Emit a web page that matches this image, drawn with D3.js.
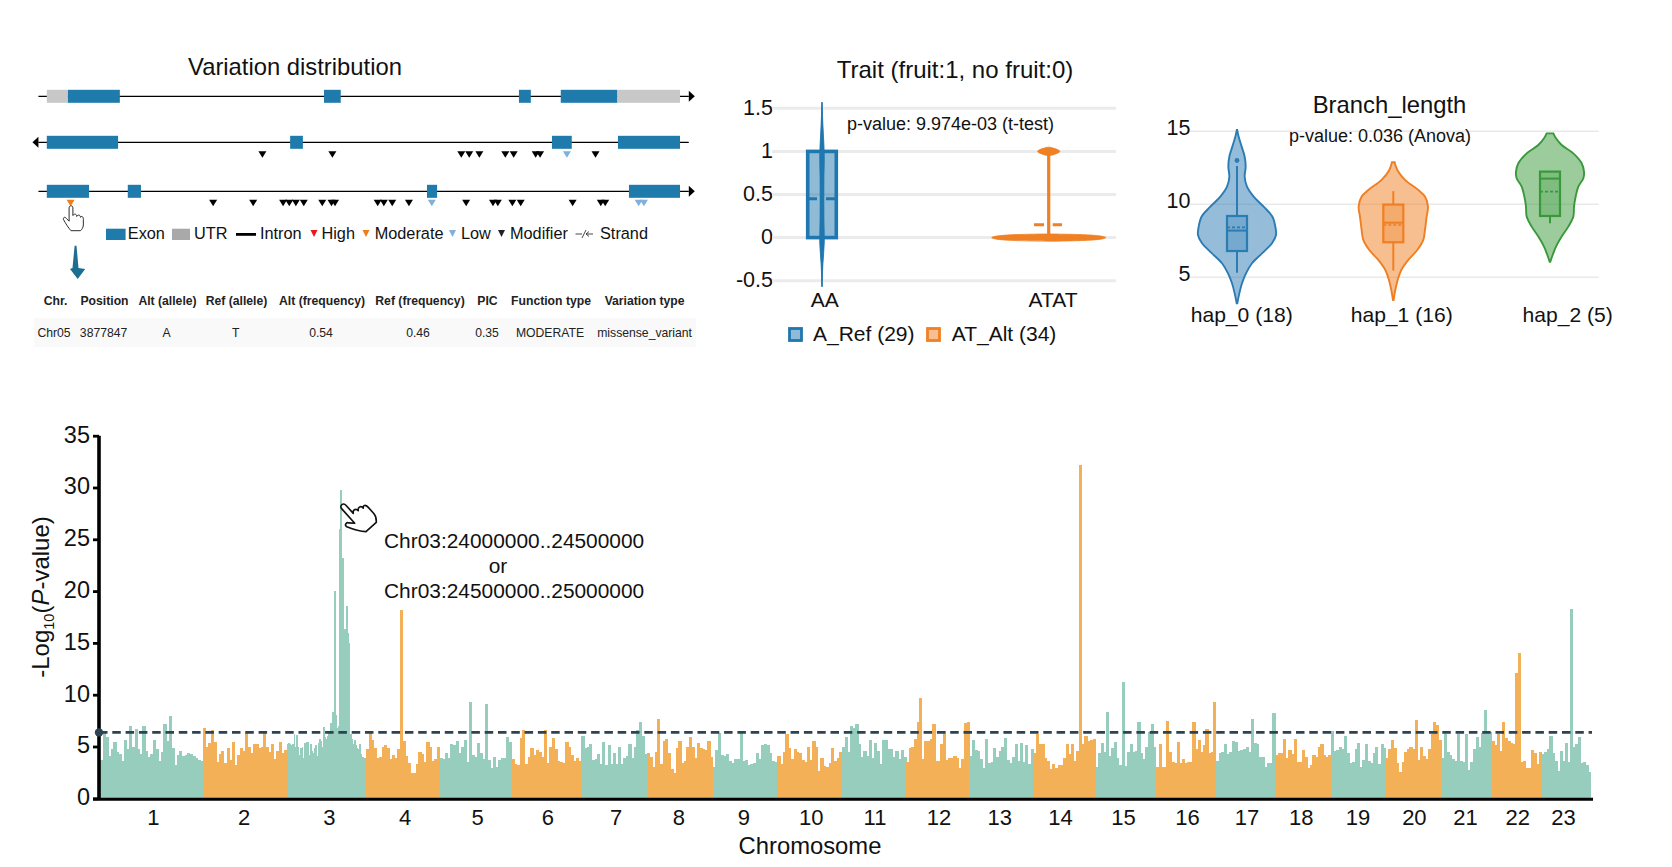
<!DOCTYPE html>
<html><head><meta charset="utf-8">
<script src="https://cdn.jsdelivr.net/npm/d3@7"></script>
<style>
html,body{margin:0;padding:0;background:#fff;overflow:hidden}
text{font-family:"Liberation Sans",Arial,sans-serif;fill:#111}
</style></head><body>
<svg id="c" width="1672" height="867"></svg>
<script>
// ---------- Manhattan data ----------
const chromNames = d3.range(1,24).map(String);
const chromLengths = [105.3,84,79,73.7,72,70,65.3,66,64.7,64.7,64,63.3,64,62,60.7,60,59.3,56,54.7,55.3,50.7,50,49];
const chromTickAt = [55.8,146.5,231.8,307.5,380,450.4,518.6,581.5,646.6,713.8,777.7,841.7,902.5,963.3,1026.2,1090.2,1149.9,1204.2,1260.8,1317.3,1368.5,1420.7,1466.6];
const chr01=[3.3,3.7,6.5,5.9,4.1,4.8,5.4,4.5,4.3,3.6,5.6,4.8,7.0,5.0,6.7,4.8,4.3,7.0,4.6,4.0,4.3,5.6,4.8,3.6,4.5,7.2,5.5,7.9,4.9,3.2,4.2,4.6,4.1,4.2,4.4,4.3,4.1,3.9,3.7,3.6];
const chr02=[6.8,5.0,5.3,6.6,5.4,3.5,4.3,4.6,3.4,4.9,3.7,5.4,3.2,4.2,4.9,4.6,6.4,5.0,4.4,5.2,5.2,4.9,5.0,6.4,5.0,4.5,5.2,3.8,4.6,5.4,4.4,4.7];
const chr03=[5.2,5.3,5.2,5.1,5.2,6.2,5.0,6.1,5.0,4.2,4.9,5.0,3.9,5.3,5.4,5.4,4.2,5.2,4.6,4.4,4.9,5.1,4.1,5.3,5.7,5.5,5.0,6.9,5.9,5.7,6.0,6.3,7.3,7.3,8.3,20,8,6.8,7,26,29.8,23.2,16.3,16.3,18.6,16,15,6.2,5.7,5.2,5.6,5.1,4.9,4.8,5.2,4.3,4.0,3.9,3.9];
const chr04=[4.8,6.4,5.6,4.9,3.9,4.0,5.0,5.1,4.9,3.8,4.2,3.9,4.8,18.2,5.5,4.1,3.4,2.4,2.4,3.3,4.5,4.3,3.5,5.4,5.0,3.6,3.8,5.0];
const chr05=[3.9,3.8,4.4,3.9,5.2,5.1,5.5,4.4,5.0,5.6,3.5,9.3,4.2,4.0,5.3,4.4,3.8,9.1,3.7,2.9,4.0,3.0,3.7,3.9,3.9,5.9,5.4];
const chr06=[3.8,3.3,3.2,5.8,6.6,3.3,4.0,4.9,4.2,4.7,4.5,4.0,6.6,3.4,5.0,5.8,4.8,3.6,3.5,3.4,5.4,5.0,4.2,3.6,3.9,3.6];
const chr07=[6.0,4.9,5.0,5.2,3.7,3.8,4.3,3.3,5.4,3.2,5.1,3.3,4.4,3.3,5.0,3.3,3.9,4.1,5.2,3.9,5.0,6.6,7.4,6.0,4.3];
const chr08=[4.4,4.0,3.0,4.5,7.7,3.3,5.5,5.7,4.4,2.8,2.4,4.9,5.5,3.4,3.6,5.0,5.9,5.0,3.9,5.3,4.9,4.8,4.7,5.5,4.0];
const chr09=[3.0,4.7,6.3,4.2,4.1,4.3,3.6,3.4,3.8,3.8,6.3,3.6,3.7,3.2,3.3,3.4,4.4,3.8,5.1,5.2,5.1,4.4,3.6,3.5];
const chr10=[4.1,3.3,4.5,6.2,4.9,3.8,4.8,4.5,4.4,3.7,3.5,5.0,3.7,5.5,5.0,2.6,3.9,3.1,3.0,3.4,4.9,3.6,3.9,4.5];
const chr11=[5.0,5.9,4.5,7.0,6.8,7.2,5.2,4.0,4.6,4.1,5.6,3.9,5.3,4.6,3.3,5.6,5.6,4.8,4.8,4.0,4.6,3.8,4.7,4.0];
const chr12=[3.5,4.9,5.0,5.7,7.4,9.7,3.8,5.5,5.5,5.7,7.2,3.6,3.6,5.2,6.5,3.7,3.9,3.9,4.1,3.9,2.9,3.8,7.3,7.4];
const chr13=[4.1,5.6,4.7,4.6,3.8,2.9,5.7,3.4,3.5,4.9,4.0,4.6,5.0,5.8,3.7,3.4,4.0,5.2,3.6,5.3,3.5,5.1,3.3,4.8];
const chr14=[4.4,6.2,5.2,5.2,3.9,3.6,2.8,3.3,2.9,3.2,3.2,3.9,5.2,4.3,5.2,3.6,4.6,32.2,5.2,6.0,5.5,5.6,5.7];
const chr15=[3.0,4.4,5.3,4.5,8.3,4.1,4.9,5.4,3.9,3.2,11.2,3.1,4.5,5.2,4.5,4.6,7.4,4.4,3.8,5.0,6.4,7.2,5.0];
const chr16=[3.0,5.2,3.0,3.0,7.5,4.5,3.5,3.4,5.4,3.4,3.8,3.4,3.5,3.5,7.4,4.8,5.6,4.5,5.1,6.7,4.4,4.5,9.3];
const chr17=[3.6,4.4,4.5,5.2,4.3,4.5,5.5,5.4,4.6,4.7,4.8,5.0,4.5,7.7,5.3,5.2,4.0,4.0,3.0,3.4,3.4,8.2];
const chr18=[4.2,4.4,4.4,5.7,3.9,4.7,4.3,5.7,3.5,3.5,4.7,4.0,2.9,3.2,4.2,4.0,5.0,5.2,4.2,4.0,4.2];
const chr19=[6.5,4.6,4.7,5.0,4.8,6.0,4.4,3.4,3.5,4.8,5.3,3.0,3.7,5.2,3.6,3.4,4.4,5.0,3.3,5.2,4.9];
const chr20=[3.9,4.8,5.6,4.9,3.4,2.5,3.5,4.5,4.8,5.0,4.8,7.6,3.7,5.0,4.1,3.8,4.8,6.2,7.4,7.1,5.6];
const chr21=[3.9,6.2,4.5,4.2,3.8,3.6,6.2,3.6,3.5,6.2,2.7,3.5,4.8,5.9,5.0,6.3,8.5,6.4,6.4];
const chr22=[5.5,5.1,6.2,4.6,7.4,5.8,5.5,5.3,5.2,12.1,14.0,3.5,3.6,2.9,2.9,4.7,4.4,3.3,4.5];
const chr23=[4.3,4.5,4.8,6.0,4.4,3.6,2.6,4.6,3.6,5.3,3.5,18.3,5.0,5.2,5.9,3.4,3.5,3.2,2.5];
const chromValues=[chr01,chr02,chr03,chr04,chr05,chr06,chr07,chr08,chr09,chr10,chr11,chr12,chr13,chr14,chr15,chr16,chr17,chr18,chr19,chr20,chr21,chr22,chr23];
const threshold=6.36;
const yTicksMain=[0,5,10,15,20,25,30,35];
const regionLines=["Chr03:24000000..24500000","or","Chr03:24500000..25000000"];

// ---------- Gene tracks ----------
const track1Utr=[[61,109],[1357,1500]];
const track1Exon=[[109,227],[691,729],[1134,1161],[1229,1357]];
const track2Exon=[[61,223],[614,643],[1209,1254],[1359,1500]];
const track3Exon=[[61,157],[245,275],[925,948],[1384,1500]];
const track2Modifier=[551,710,1003,1021,1044,1103,1122,1172,1182,1308];
const track2Low=[1243];
const track3Modifier=[439,530,598,612,627,645,687,708,716,813,827,846,884,1014,1075,1086,1119,1138,1256,1320,1330];
const track3Low=[936,1406,1418];
const track3Moderate=[115];
const tableHeader=["Chr.","Position","Alt (allele)","Ref (allele)","Alt (frequency)","Ref (frequency)","PIC","Function type","Variation type"];
const tableRow=["Chr05","3877847","A","T","0.54","0.46","0.35","MODERATE","missense_variant"];

// ---------- Trait panel ----------
const traitTicks=[1.5,1,0.5,0,-0.5];
const traitCats=["AA","ATAT"];
const traitLegend=["A_Ref (29)","AT_Alt (34)"];
const aaViolinV=[-0.57,-0.3,-0.05,0.2,0.45,0.7,0.95,1.3,1.57];
const aaViolinD=[0,0.4,1,0.85,0.8,0.85,1,0.4,0];
const aaBox=[0,0.45,1];
const atLowV=[-0.042,-0.03,-0.012,0,0.012,0.03,0.042];
const atLowD=[0.02,0.72,0.96,1,0.96,0.72,0.02];
const atHighV=[0.952,0.97,0.988,1,1.012,1.03,1.048];
const atHighD=[0.02,0.12,0.18,0.195,0.18,0.12,0.02];
const atBox=[0,0.15,1];

// ---------- Branch length panel ----------
const branchTicks=[5,10,15];
const hapLabels=["hap_0 (18)","hap_1 (16)","hap_2 (5)"];
const hap0V=[15.09,14.63,13.95,13.26,12.58,11.89,11.21,10.53,9.84,9.16,8.47,7.9,7.33,6.64,5.96,5.27,4.59,3.9,3.22];
const hap0D=[0.5,5,14,23,26,23,30,50,80,106,115,117,105,75,45,27,15,7,1];
const hap1V=[12.88,12.35,11.67,10.98,10.53,9.84,9.16,8.24,7.56,6.87,6.19,5.5,4.82,4.13,3.45];
const hap1D=[4,12,35,75,95,104,100,95,90,72,45,24,13,6,1];
const hap2V=[14.86,14.52,14.06,13.49,12.81,12.24,11.78,11.21,10.53,9.84,9.16,8.47,7.79,7.1,6.53,6.07];
const hap2D=[10,18,35,70,95,102,100,85,77,72,70,55,35,18,8,1];
const hap0Box={lo:5.32,q1:6.8,med:8.2,mean:8.42,q3:9.2,hi:12.63,out:13.0};
const hap1Box={lo:5.46,q1:7.4,med:8.74,mean:8.58,q3:9.98,hi:10.9};
const hap2Box={lo:8.7,q1:9.2,med:11.76,mean:10.87,q3:12.24,hi:12.24};

const svg=d3.select("#c");
function label(g,x,y,t,fs,anchor,extra){
  const n=g.append("text").attr("x",x).attr("y",y).attr("dy","0.35em").attr("font-size",fs).attr("text-anchor",anchor||"start").text(t);
  if(extra)extra(n);return n;
}
const handPath="M-2,2C-2,-1 2,-1 2,2L2,10C3,8 6,8 6,11C7,9 10,9 10,12C11,10 13,11 13,14L13,20C13,23 11,25 10,26L0,26C-2,24 -6,18 -8,14C-8.6,12 -6,11 -5,13L-2,16Z";

// ================= Manhattan =================
(function(){
 const g=svg.append("g");
 const cum=d3.cumsum(chromLengths);
 const x=d3.scaleLinear().domain([0,cum[cum.length-1]]).range([97.7,1590.7]);
 const y=d3.scaleLinear().domain([0,35]).range([798.3,435.7]);
 const col=["#97cdbd","#f3b057"];
 chromValues.forEach((vals,i)=>{
   const s=i?cum[i-1]:0,e=cum[i];
   const b=d3.scaleBand().domain(d3.range(vals.length)).range([x(s),x(e)]);
   g.append("g").attr("shape-rendering","crispEdges").selectAll("rect").data(vals).join("rect")
    .attr("x",(d,j)=>b(j)).attr("width",b.bandwidth()+0.5)
    .attr("y",d=>y(d)).attr("height",d=>y(0)-y(d)).attr("fill",col[i%2]);
 });
 // axes
 const ax=g.append("g").attr("transform","translate(99,0)").call(d3.axisLeft(y).tickValues(yTicksMain).tickSize(6).tickPadding(3));
 ax.select(".domain").attr("stroke","#000").attr("stroke-width",3.6).attr("d","M0,"+y(35)+"V"+(y(0)+1.5));
 ax.selectAll(".tick line").attr("stroke","#000").attr("stroke-width",2.8);
 ax.selectAll(".tick text").attr("font-size",23.5).attr("font-family","Liberation Sans").attr("fill","#111").attr("dy","0.27em");
 g.append("line").attr("x1",93).attr("x2",1593).attr("y1",y(0)+1).attr("y2",y(0)+1).attr("stroke","#000").attr("stroke-width",3);
 chromNames.forEach((n,i)=>label(g,x(chromTickAt[i]),817.5,n,22,"middle"));
 label(g,810,846,"Chromosome",23.8,"middle");
 // y title
 const t=g.append("text").attr("transform","translate(49,597) rotate(-90)").attr("text-anchor","middle").attr("font-size",24);
 t.append("tspan").text("-Log");
 t.append("tspan").attr("font-size",14.5).attr("dy",5).text("10");
 t.append("tspan").attr("dy",-5).text("(");
 t.append("tspan").attr("font-style","italic").text("P");
 t.append("tspan").text("-value)");
 // threshold
 g.append("line").attr("x1",99).attr("x2",1592).attr("y1",y(threshold)).attr("y2",y(threshold))
  .attr("stroke","#2c4353").attr("stroke-width",2.6).attr("stroke-dasharray","8.5 4.8");
 g.append("circle").attr("cx",99).attr("cy",y(threshold)).attr("r",4.2).attr("fill","#2c4353");
 // region text
 label(g,384,540.7,regionLines[0],20.9,"start");
 label(g,498,566,regionLines[1],20.9,"middle");
 label(g,384,590.7,regionLines[2],20.9,"start");
 g.append("path").attr("d",handPath).attr("transform","translate(342,505) rotate(-42) scale(1.38)")
  .attr("fill","#fff").attr("stroke","#111").attr("stroke-width",1.2).attr("stroke-linejoin","round");
})();

// ================= Gene tracks =================
(function(){
 const g=svg.append("g");
 const x=d3.scaleLinear().domain([61,1500]).range([46.8,680]);
 label(g,295,67,"Variation distribution",23.8,"middle");
 const blue="#1f7bab",grey="#c8c8c8";
 function track(yc,exons,utrs,dir){
   g.append("line").attr("x1",x(42)).attr("x2",x(1520)).attr("y1",yc).attr("y2",yc).attr("stroke","#000").attr("stroke-width",1.3);
   const ax=dir>0?x(1520):x(42);
   g.append("path").attr("d",`M${ax+dir*6},${yc}L${ax},${yc-5.5}L${ax},${yc+5.5}Z`).attr("fill","#000");
   g.selectAll(null).data(utrs).join("rect").attr("x",d=>x(d[0])).attr("width",d=>x(d[1])-x(d[0])).attr("y",yc-6.5).attr("height",13).attr("fill",grey);
   g.selectAll(null).data(exons).join("rect").attr("x",d=>x(d[0])).attr("width",d=>x(d[1])-x(d[0])).attr("y",yc-6.5).attr("height",13).attr("fill",blue);
 }
 track(96.3,track1Exon,track1Utr,1);
 track(142.3,track2Exon,[],-1);
 track(191.3,track3Exon,[],1);
 function tri(cx,top,w,h,c){return g.append("path").attr("d",`M${cx-w/2},${top}H${cx+w/2}L${cx},${top+h}Z`).attr("fill",c);}
 const mod="#000",low="#7db1de",mo="#ef7d1a",hi="#e8191f";
 track2Modifier.forEach(d=>tri(x(d),151.3,8,6.5,mod));
 track2Low.forEach(d=>tri(x(d),151.3,8,6.5,low));
 track3Modifier.forEach(d=>tri(x(d),199.8,8,6.5,mod));
 track3Low.forEach(d=>tri(x(d),199.8,8,6.5,low));
 track3Moderate.forEach(d=>tri(x(d),199.8,8,6.5,mo));
 g.append("path").attr("d",handPath).attr("transform","translate(71,206) scale(0.95)")
  .attr("fill","#fff").attr("stroke","#222").attr("stroke-width",1);
 // legend
 const ly=233.5;
 g.append("rect").attr("x",106).attr("y",228.7).attr("width",19.6).attr("height",11.3).attr("fill",blue);
 label(g,127.8,ly,"Exon",16.3);
 g.append("rect").attr("x",172).attr("y",228.7).attr("width",18).attr("height",11.3).attr("fill","#a9a9a9");
 label(g,194,ly,"UTR",16.3);
 g.append("line").attr("x1",236).attr("x2",256).attr("y1",234.4).attr("y2",234.4).attr("stroke","#000").attr("stroke-width",2.8);
 label(g,260,ly,"Intron",16.3);
 tri(314,230,7,7,hi); label(g,321.5,ly,"High",16.3);
 tri(366,230,7,7,mo); label(g,374.7,ly,"Moderate",16.3);
 tri(452.5,230,7,7,low); label(g,461,ly,"Low",16.3);
 tri(501.5,230,7,7,"#222"); label(g,510,ly,"Modifier",16.3);
 g.append("path").attr("d","M575.5,234H582M586,234H593M582,238L586,230M586,234l3,-2.5M586,234l3,2.5").attr("stroke","#333").attr("stroke-width",0.9).attr("fill","none");
 label(g,600,ly,"Strand",16.3);
 // arrow
 g.append("path").attr("d","M74.6,245.7L76.5,245.7L78.5,268L85.2,269L77.7,279L70,269L72.5,268Z").attr("fill","#1d6f91");
 // table
 g.append("rect").attr("x",34).attr("y",318).attr("width",662).attr("height",29).attr("fill","#f9f9f9");
 const hx=[55.6,104.5,167.5,236.5,322,420,487.5,551,644.6];
 const rx=[54,103.6,166.6,235.7,321,418,487,550,644.6];
 tableHeader.forEach((t,i)=>label(g,hx[i],301,t,12.2,"middle",n=>n.attr("font-weight","bold").style("fill","#222")));
 tableRow.forEach((t,i)=>label(g,rx[i],332.5,t,12.2,"middle",n=>n.style("fill","#222")));
})();

// ================= Trait =================
(function(){
 const g=svg.append("g");
 const y=d3.scaleLinear().domain([-0.5,1.5]).range([280.7,108.3]);
 label(g,955,69.5,"Trait (fruit:1, no fruit:0)",24,"middle");
 const ax=g.append("g").attr("transform","translate(773,0)").call(d3.axisLeft(y).tickValues(traitTicks).tickSize(0).tickPadding(0).tickFormat(String));
 ax.select(".domain").remove();
 ax.selectAll(".tick text").attr("font-size",21.5).attr("font-family","Liberation Sans").attr("fill","#111").attr("dy","0.27em");
 g.selectAll(null).data(traitTicks).join("line").attr("x1",772).attr("x2",1116).attr("y1",d=>y(d)).attr("y2",d=>y(d)).attr("stroke","#ebebeb").attr("stroke-width",3);
 const blue="#1f77b0",or="#f08024";
 function violin(cx,vals,dens,scale,col){
   const right=vals.map((v,i)=>[cx+dens[i]*scale,y(v)]);
   const left=vals.map((v,i)=>[cx-dens[i]*scale,y(v)]).reverse();
   g.append("path").attr("d",d3.line().curve(d3.curveCatmullRomClosed)(right.concat(left))).attr("fill",col).attr("stroke",col).attr("stroke-width",0.8);
 }
 const cA=822,cB=1048.7;
 violin(cA,aaViolinV,aaViolinD,2.3,blue);
 g.append("rect").attr("x",cA-14.3).attr("width",28.6).attr("y",y(aaBox[2])).attr("height",y(aaBox[0])-y(aaBox[2]))
  .attr("fill",blue).attr("fill-opacity",0.5).attr("stroke",blue).attr("stroke-width",3.6);
 violin(cA,aaViolinV,aaViolinD,1.4,blue);
 g.append("path").attr("d",`M${cA-13},${y(aaBox[1])}H${cA-5}M${cA+4},${y(aaBox[1])}H${cA+13}`).attr("stroke",blue).attr("stroke-width",3);
 g.append("line").attr("x1",cB).attr("x2",cB).attr("y1",y(atBox[2])).attr("y2",y(atBox[0])).attr("stroke",or).attr("stroke-width",3.2);
 violin(cB,atLowV,atLowD,57,or);
 violin(cB,atHighV,atHighD,57,or);
 g.append("path").attr("d",`M${cB-14.7},${y(atBox[1])}H${cB-4.7}M${cB+4},${y(atBox[1])}H${cB+13.3}`).attr("stroke",or).attr("stroke-width",3);
 label(g,824.7,299.5,traitCats[0],21,"middle");
 label(g,1053,299.5,traitCats[1],21,"middle");
 label(g,847,124,"p-value: 9.974e-03 (t-test)",18,"start");
 g.append("rect").attr("x",789.5).attr("y",328.5).attr("width",12).attr("height",12).attr("fill",blue).attr("fill-opacity",0.5).attr("stroke",blue).attr("stroke-width",2.8);
 label(g,813,333.5,traitLegend[0],21,"start");
 g.append("rect").attr("x",927.5).attr("y",328.5).attr("width",12).attr("height",12).attr("fill",or).attr("fill-opacity",0.5).attr("stroke",or).attr("stroke-width",2.8);
 label(g,951.7,333.5,traitLegend[1],21,"start");
})();

// ================= Branch length =================
(function(){
 const g=svg.append("g");
 const y=d3.scaleLinear().domain([5,15]).range([277.3,131.3]);
 label(g,1389.5,105,"Branch_length",23.8,"middle");
 const ax=g.append("g").attr("transform","translate(1190.5,0)").call(d3.axisLeft(y).tickValues(branchTicks).tickSize(0).tickPadding(0).tickFormat(String));
 ax.select(".domain").remove();
 ax.selectAll(".tick text").attr("font-size",21.5).attr("font-family","Liberation Sans").attr("fill","#111").attr("dy","0.17em");
 g.selectAll(null).data(branchTicks).join("line").attr("x1",1190).attr("x2",1598.7).attr("y1",d=>y(d)).attr("y2",d=>y(d)).attr("stroke","#e9e9e9").attr("stroke-width",1.5);
 const w=d3.scaleLinear().domain([0,3]).range([0,1]);
 const cols=["#2b7cb3","#ef7f22","#39993a"];
 function violin(cx,vals,dens,box,col){
   const pts=vals.map((v,i)=>[dens[i],v]);
   const area=d3.area().x0(d=>cx-w(d[0])).x1(d=>cx+w(d[0])).y(d=>y(d[1])).curve(d3.curveCatmullRom);
   g.append("path").attr("d",area(pts)).attr("fill",col).attr("fill-opacity",0.5).attr("stroke",col).attr("stroke-width",1.9);
   if(box.hi>box.q3)g.append("line").attr("x1",cx).attr("x2",cx).attr("y1",y(box.hi)).attr("y2",y(box.q3)).attr("stroke",col).attr("stroke-width",2);
   g.append("line").attr("x1",cx).attr("x2",cx).attr("y1",y(box.q1)).attr("y2",y(box.lo)).attr("stroke",col).attr("stroke-width",2);
   g.append("rect").attr("x",cx-10).attr("width",20).attr("y",y(box.q3)).attr("height",y(box.q1)-y(box.q3)).attr("fill",col).attr("fill-opacity",0.3).attr("stroke",col).attr("stroke-width",2.2);
   g.append("line").attr("x1",cx-10).attr("x2",cx+10).attr("y1",y(box.med)).attr("y2",y(box.med)).attr("stroke",col).attr("stroke-width",2);
   g.append("line").attr("x1",cx-10).attr("x2",cx+10).attr("y1",y(box.mean)).attr("y2",y(box.mean)).attr("stroke",col).attr("stroke-width",1.6).attr("stroke-dasharray","3 2");
   if(box.out!==undefined)g.append("circle").attr("cx",cx).attr("cy",y(box.out)).attr("r",2.4).attr("fill",col);
 }
 violin(1237,hap0V,hap0D,hap0Box,cols[0]);
 violin(1393.3,hap1V,hap1D,hap1Box,cols[1]);
 violin(1550,hap2V,hap2D,hap2Box,cols[2]);
 label(g,1380,136,"p-value: 0.036 (Anova)",18,"middle");
 label(g,1241.7,315,hapLabels[0],21.1,"middle");
 label(g,1401.7,315,hapLabels[1],21.1,"middle");
 label(g,1567.7,315,hapLabels[2],21.1,"middle");
})();
</script>
</body></html>
